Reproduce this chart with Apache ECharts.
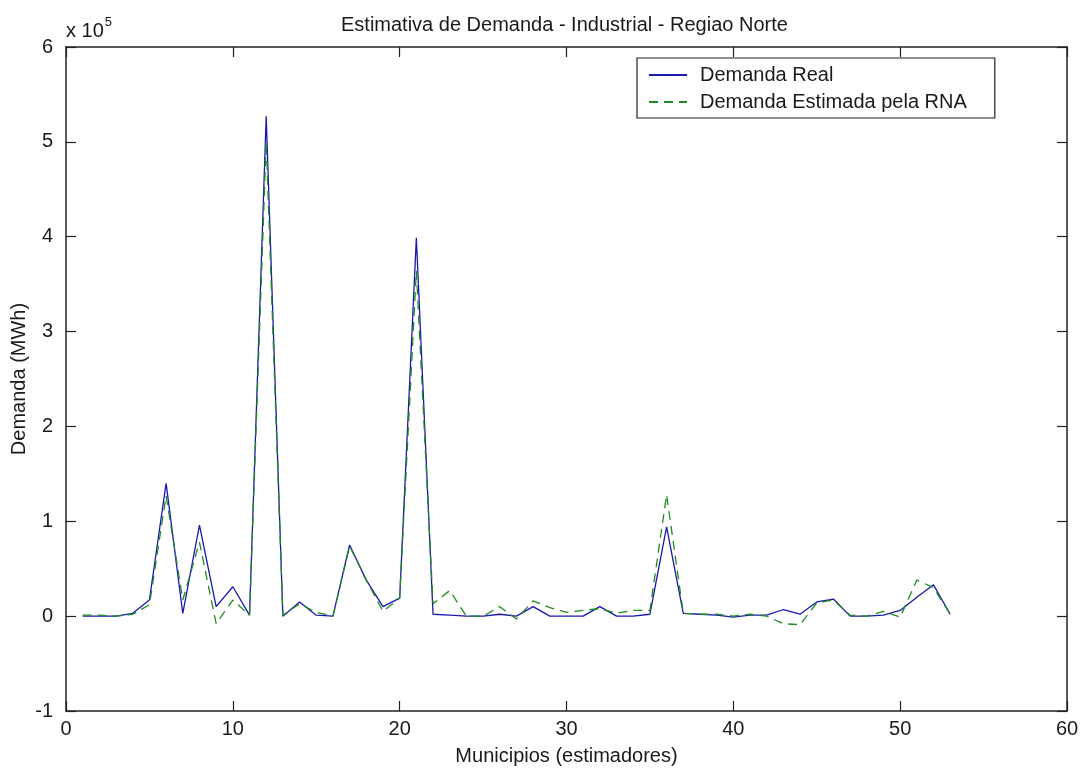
<!DOCTYPE html>
<html>
<head>
<meta charset="utf-8">
<script src="https://cdn.jsdelivr.net/npm/echarts@6/dist/echarts.min.js"></script>
<style>
  html, body { margin: 0; padding: 0; background: #fff; }
  #chart { width: 1083px; height: 771px; }
</style>
</head>
<body>
<div id="chart"></div>
<script>
// Municipality index (estimators) 1..53
const municipios = [1,2,3,4,5,6,7,8,9,10,11,12,13,14,15,16,17,18,19,20,21,22,23,24,25,26,27,28,29,30,31,32,33,34,35,36,37,38,39,40,41,42,43,44,45,46,47,48,49,50,51,52,53];

// Real industrial demand (MWh)
const demandaReal = [0,0,0,3000,17000,140000,3000,96000,10000,31000,1000,527000,0,15000,1000,0,75000,38000,10000,19000,399000,2000,1000,0,0,2000,0,10000,0,0,0,10000,0,0,2000,94000,3000,2000,1000,-1000,1000,1000,7000,2000,15000,18000,0,0,1000,6000,20000,33000,2000];

// Demand estimated by the neural network (MWh)
const demandaEstimada = [1000,1000,0,2000,12000,127000,17000,78000,-8000,17000,1000,501000,1000,13000,4000,0,74000,38000,5000,19000,364000,13000,27000,0,0,10000,-3000,16000,9000,4000,6000,8000,3000,6000,6000,128000,3000,2000,2000,0,2000,0,-8000,-9000,14000,17000,1000,0,5000,-1000,38000,30000,2000];

const yTickLabels = ['-1','0','1','2','3','4','5','6'];
const seriesNames = ['Demanda Real', 'Demanda Estimada pela RNA'];

const FONT = '"Liberation Sans", Arial, sans-serif';
const FS = 20;
const INK = '#1a1a1a';
const BLUE = '#1818b0';
const GREEN = '#1f8a1f';

const pairs = (ys) => municipios.map((x, i) => [x, ys[i]]);

const chart = echarts.init(document.getElementById('chart'), null, { renderer: 'canvas' });

const baseX = {
  type: 'value', min: 0, max: 60, interval: 10,
  axisLine: { show: true, onZero: false, lineStyle: { color: '#222', width: 1.5 } },
  axisTick: { show: true, inside: true, length: 10, lineStyle: { color: '#222', width: 1.2 } },
  splitLine: { show: false }
};
const baseY = {
  type: 'value', min: -100000, max: 600000, interval: 100000,
  axisLine: { show: true, onZero: false, lineStyle: { color: '#222', width: 1.5 } },
  axisTick: { show: true, inside: true, length: 10, lineStyle: { color: '#222', width: 1.2 } },
  splitLine: { show: false }
};

chart.setOption({
  animation: false,
  backgroundColor: '#ffffff',
  title: {
    text: 'Estimativa de Demanda - Industrial - Regiao Norte',
    left: 336, top: 10,
    textStyle: { fontFamily: FONT, fontSize: FS, fontWeight: 'normal', color: INK }
  },
  grid: { left: 66, right: 16, top: 47, bottom: 60, containLabel: false, outerBoundsMode: 'none' },
  legend: {
    orient: 'vertical',
    left: 637, top: 58,
    data: seriesNames,
    backgroundColor: '#fff',
    borderColor: '#222', borderWidth: 1.2,
    padding: [7, 28, 6, 11],
    itemWidth: 38, itemHeight: 14, itemGap: 7,
    itemStyle: { opacity: 0 },
    textStyle: { fontFamily: FONT, fontSize: FS, color: INK, padding: [0, 0, 0, 8] }
  },
  xAxis: [
    Object.assign({}, baseX, {
      position: 'bottom',
      name: 'Municipios (estimadores)', nameLocation: 'middle', nameGap: 35,
      nameMoveOverlap: false,
      nameTextStyle: { fontFamily: FONT, fontSize: FS, color: INK },
      axisLabel: { fontFamily: FONT, fontSize: FS, color: INK, margin: 8 }
    }),
    Object.assign({}, baseX, { position: 'top', axisLabel: { show: false } })
  ],
  yAxis: [
    Object.assign({}, baseY, {
      position: 'left',
      name: 'Demanda (MWh)', nameLocation: 'middle', nameGap: 37,
      nameMoveOverlap: false,
      nameTextStyle: { fontFamily: FONT, fontSize: FS, color: INK },
      axisLabel: {
        fontFamily: FONT, fontSize: FS, color: INK, margin: 13,
        formatter: (v) => yTickLabels[Math.round(v / 100000) + 1]
      }
    }),
    Object.assign({}, baseY, { position: 'right', axisLabel: { show: false } })
  ],
  graphic: [{
    type: 'text', left: 66, top: 16,
    style: {
      text: '{b|x 10}{s|5}',
      rich: {
        b: { fontFamily: FONT, fontSize: FS, fill: INK, verticalAlign: 'bottom' },
        s: { fontFamily: FONT, fontSize: 13, fill: INK, verticalAlign: 'top', padding: [0, 0, 12, 1] }
      }
    }
  }],
  series: [
    {
      name: seriesNames[0], type: 'line', data: pairs(demandaReal),
      symbol: 'none', showSymbol: false,
      lineStyle: { color: BLUE, width: 1.3 },
      itemStyle: { color: BLUE }
    },
    {
      name: seriesNames[1], type: 'line', data: pairs(demandaEstimada),
      symbol: 'none', showSymbol: false,
      lineStyle: { color: GREEN, width: 1.3, type: [9, 6] },
      itemStyle: { color: GREEN }
    }
  ]
});
</script>
</body>
</html>
